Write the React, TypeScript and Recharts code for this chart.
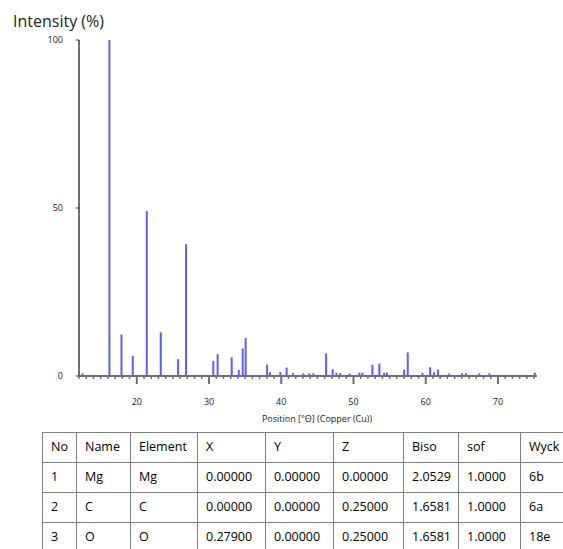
import React from "react";
import { ComposedChart, Bar, XAxis, YAxis } from "recharts";

// peak positions (deg 2theta) and relative intensities (%)
const positions = [
  12.53, 16.27, 17.94, 19.5, 21.44, 23.38, 25.78, 26.88, 30.65, 31.25, 33.2,
  34.18, 34.72, 35.13, 38.1, 38.5, 39.93, 40.8, 41.7, 43.12, 43.95, 44.5,
  46.27, 47.18, 47.7, 48.22, 49.5, 50.88, 51.3, 52.68, 53.64, 54.3, 54.7,
  57.06, 57.57, 59.6, 60.67, 61.2, 61.77, 63.3, 65.1, 65.63, 67.48, 68.87,
  75.15,
];
const intensities = [
  0.8, 100, 12.4, 6, 49.1, 13, 5, 39.2, 4.5, 6.5, 5.6, 1.8, 8.2, 11.3, 3.4,
  1.1, 1.2, 2.5, 0.9, 0.8, 0.8, 0.8, 6.7, 2, 1, 0.9, 0.7, 1, 1, 3.3, 3.7, 1,
  1, 1.9, 7, 0.9, 2.6, 1.1, 1.9, 0.7, 0.8, 0.8, 0.8, 0.8, 1,
];

const xDomain = [12, 75.4];
const yTicks = [0, 50, 100];
const majorTicks = [20, 30, 40, 50, 60, 70];
const xTicks = Array.from({ length: 64 }, (_, i) => 12 + i);

const yTitle = "Intensity (%)";
const xTitle = "Position [°Θ] (Copper (Cu))";

// structure table
const tableHead = ["No", "Name", "Element", "X", "Y", "Z", "Biso", "sof", "Wyck"];
const atomNo = ["1", "2", "3"];
const atomName = ["Mg", "C", "O"];
const atomElement = ["Mg", "C", "O"];
const atomX = ["0.00000", "0.00000", "0.27900"];
const atomY = ["0.00000", "0.00000", "0.00000"];
const atomZ = ["0.00000", "0.25000", "0.25000"];
const atomBiso = ["2.0529", "1.6581", "1.6581"];
const atomSof = ["1.0000", "1.0000", "1.0000"];
const atomWyck = ["6b", "6a", "18e"];
const colWidths = [34, 54, 67, 68, 68, 70, 55, 62, 90];

const data = positions.map((p, i) => ({ pos: p, int: intensities[i] }));

const FONT = "'Open Sans', sans-serif";
const AXIS = "#6e6e6e";

const XTick = (props: any) => {
  const { x, y, payload } = props;
  const major = majorTicks.includes(payload.value);
  return (
    <g>
      <line x1={x} x2={x} y1={y} y2={y + (major ? 8 : 3)} stroke={AXIS} strokeWidth={major ? 2 : 1.5} />
      {major && (
        <text x={x} y={y + 29} textAnchor="middle" fontSize={9} fill="#222" fontFamily={FONT}>
          {payload.value}
        </text>
      )}
    </g>
  );
};

export default function App() {
  const rows = atomNo.map((n, i) => [
    n, atomName[i], atomElement[i], atomX[i], atomY[i], atomZ[i], atomBiso[i], atomSof[i], atomWyck[i],
  ]);
  const tableWidth = colWidths.reduce((a, b) => a + b, 0);
  const cell: React.CSSProperties = {
    border: "1px solid #808080",
    height: 26,
    padding: "0 0 3px 8px",
    textAlign: "left",
    fontWeight: 400,
    whiteSpace: "nowrap",
    verticalAlign: "middle",
    overflow: "hidden",
  };
  return (
    <div style={{ position: "absolute", left: 0, top: 0, width: 563, height: 549, overflow: "hidden", background: "#fff", fontFamily: FONT }}>
      <div style={{ position: "absolute", left: 13, top: 9, fontSize: 16, color: "#222", lineHeight: "24px" }}>{yTitle}</div>
      <ComposedChart
        width={563}
        height={430}
        data={data}
        margin={{ top: 40, right: 26, left: 0, bottom: 24 }}
        barGap={0}
      >
        <XAxis
          dataKey="pos"
          type="number"
          domain={xDomain}
          ticks={xTicks}
          interval={0}
          allowDataOverflow
          height={30}
          tickLine={false}
          tickSize={0}
          tickMargin={0}
          tick={<XTick />}
          axisLine={{ stroke: AXIS, strokeWidth: 2 }}
        />
        <XAxis xAxisId="top" orientation="top" type="number" domain={xDomain} height={0} tick={false} tickLine={false} axisLine={{ stroke: AXIS, strokeWidth: 2 }} />
        <YAxis
          type="number"
          domain={[0, 100]}
          ticks={yTicks}
          width={79}
          tickSize={3}
          tickMargin={13}
          tick={{ fontSize: 9, fill: "#222", fontFamily: FONT }}
          tickLine={{ stroke: "#333" }}
          axisLine={{ stroke: AXIS, strokeWidth: 2 }}
        />
        <YAxis yAxisId="right" orientation="right" domain={[0, 100]} width={0} tick={false} tickLine={false} axisLine={{ stroke: AXIS, strokeWidth: 2 }} />
        <Bar dataKey="int" barSize={2} fill="#5c5cff" isAnimationActive={false} />
      </ComposedChart>
      <div style={{ position: "absolute", left: 0, width: 634, top: 412, textAlign: "center", fontSize: 9, color: "#222" }}>{xTitle}</div>
      <table
        style={{
          position: "absolute",
          left: 42,
          top: 432,
          width: tableWidth,
          borderCollapse: "collapse",
          tableLayout: "fixed",
          fontSize: 12.5,
          color: "#000",
        }}
      >
        <colgroup>
          {colWidths.map((w, i) => (
            <col key={i} style={{ width: w }} />
          ))}
        </colgroup>
        <thead>
          <tr>
            {tableHead.map((h) => (
              <th key={h} style={cell}>{h}</th>
            ))}
          </tr>
        </thead>
        <tbody>
          {rows.map((r, i) => (
            <tr key={i}>
              {r.map((v, j) => (
                <td key={j} style={cell}>{v}</td>
              ))}
            </tr>
          ))}
        </tbody>
      </table>
    </div>
  );
}
